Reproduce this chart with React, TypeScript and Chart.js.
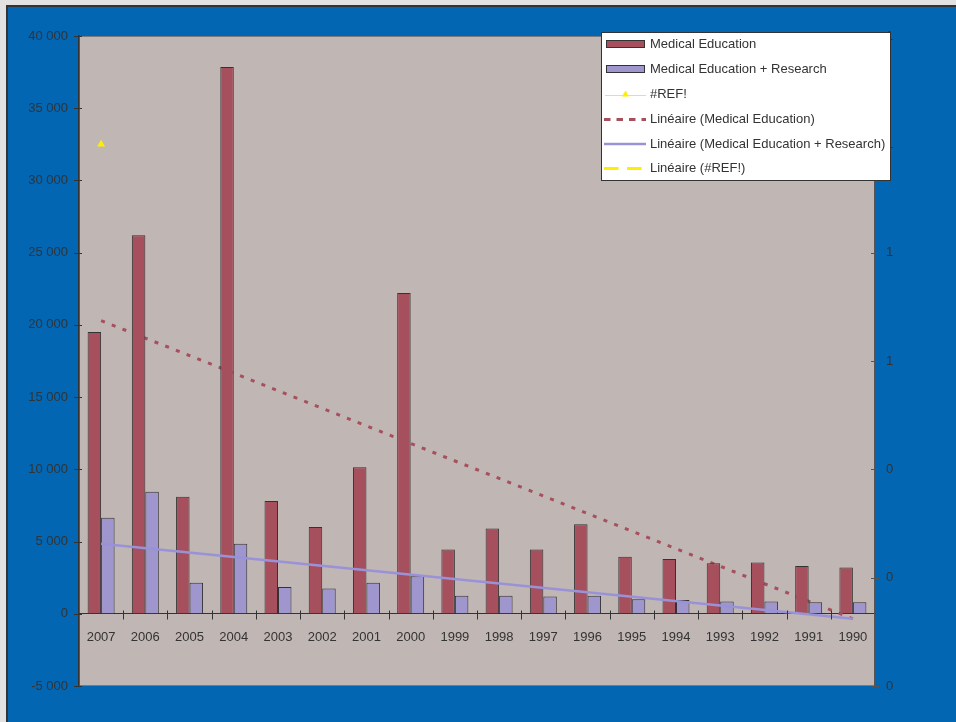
import { useEffect, useRef } from "react";
import { Chart, registerables } from "chart.js";

Chart.register(...registerables);

// Categories (most recent year first)
const years = [
  "2007", "2006", "2005", "2004", "2003", "2002", "2001", "2000", "1999",
  "1998", "1997", "1996", "1995", "1994", "1993", "1992", "1991", "1990",
];

// Bar series
const medicalEducation = [
  19500, 26200, 8100, 37850, 7800, 6000, 10150, 22200, 4450,
  5900, 4450, 6200, 3950, 3800, 3500, 3550, 3300, 3200,
];
const medicalEducationResearch = [
  6650, 8450, 2150, 4850, 1850, 1750, 2150, 2600, 1250,
  1250, 1200, 1250, 1000, 950, 850, 850, 800, 800,
];

// Secondary-axis series (only one defined point)
const refValues: (number | null)[] = [1];

// Linear trend lines: value at first and last category
const medicalEducationTrendEnds = [20300, -350];
const researchTrendEnds = [4850, -350];

// Axes
const leftMin = -5000;
const leftMax = 40000;
const leftStep = 5000;
const rightMin = 0;
const rightMax = 1.2;
const rightStep = 0.2;

const legendLabels = [
  "Medical Education",
  "Medical Education + Research",
  "#REF!",
  "Linéaire (Medical Education)",
  "Linéaire (Medical Education + Research)",
  "Linéaire (#REF!)",
];

const RED = "#a6505e";
const LAVENDER = "#9e96cc";
const TREND_LAVENDER = "#9a92d8";
const YELLOW = "#ffee00";
const TEXT = "#333333";
const FONT = "'Liberation Sans', Arial, sans-serif";

function endsToSeries(ends: number[]): (number | null)[] {
  return years.map((_, i) =>
    i === 0 ? ends[0] : i === years.length - 1 ? ends[1] : null
  );
}

function formatThousands(v: number): string {
  const s = Math.abs(Math.round(v)).toString().replace(/\B(?=(\d{3})+(?!\d))/g, " ");
  return (v < 0 ? "-" : "") + s;
}

const backgroundPlugin = {
  id: "backgroundFrame",
  beforeDraw(chart: any) {
    const { ctx, width, height, chartArea: a } = chart;
    ctx.save();
    ctx.fillStyle = "#e2e2e2";
    ctx.fillRect(0, 0, width, height);
    ctx.fillStyle = "#333333";
    ctx.fillRect(6, 5, width - 6, height - 5);
    ctx.fillStyle = "#0366b2";
    ctx.fillRect(8, 7, width - 8, height - 7);
    ctx.fillStyle = "#c0b6b4";
    ctx.fillRect(a.left, a.top, a.right - a.left, a.bottom - a.top);
    ctx.strokeStyle = "#7a7a7a";
    ctx.lineWidth = 1;
    ctx.strokeRect(a.left + 0.5, a.top + 0.5, a.right - a.left - 1, a.bottom - a.top - 1);
    ctx.restore();
  },
};

const overlayPlugin = {
  id: "ticksAndLegend",
  afterDraw(chart: any) {
    const { ctx } = chart;
    const x = chart.scales.x;
    const y = chart.scales.y;
    const y1 = chart.scales.y1;
    ctx.save();

    // Cross tick marks
    ctx.strokeStyle = TEXT;
    ctx.lineWidth = 1;
    ctx.beginPath();
    y.ticks.forEach((t: any) => {
      const py = Math.round(y.getPixelForValue(t.value)) + 0.5;
      ctx.moveTo(x.left - 5, py);
      ctx.lineTo(x.left + 3, py);
    });
    const zeroY = Math.round(y.getPixelForValue(0)) + 0.5;
    for (let i = 1; i < years.length; i++) {
      const px = Math.round((x.getPixelForValue(i - 1) + x.getPixelForValue(i)) / 2) + 0.5;
      ctx.moveTo(px, zeroY - 4);
      ctx.lineTo(px, zeroY + 5);
    }
    ctx.stroke();
    ctx.strokeStyle = "#555555";
    ctx.beginPath();
    y1.ticks.forEach((t: any) => {
      const py = Math.round(y1.getPixelForValue(t.value)) + 0.5;
      ctx.moveTo(x.right - 4, py);
      ctx.lineTo(x.right + 4, py);
    });
    ctx.stroke();

    // Legend box
    const lx = 601;
    const ly = 32;
    const lw = 290;
    const lh = 149;
    ctx.fillStyle = "#ffffff";
    ctx.fillRect(lx, ly, lw, lh);
    ctx.strokeStyle = "#333333";
    ctx.lineWidth = 1;
    ctx.strokeRect(lx + 0.5, ly + 0.5, lw - 1, lh - 1);

    const rows = [44, 69, 94.5, 119.5, 144, 168.5];
    const sx0 = 605;
    const sx1 = 646;
    ctx.font = `13px ${FONT}`;
    ctx.textBaseline = "middle";
    ctx.textAlign = "left";
    legendLabels.forEach((label, i) => {
      const ry = rows[i];
      ctx.save();
      if (i === 0 || i === 1) {
        ctx.fillStyle = i === 0 ? RED : LAVENDER;
        ctx.fillRect(sx0 + 1, ry - 4, sx1 - sx0 - 2, 8);
        ctx.strokeStyle = "#333333";
        ctx.lineWidth = 1;
        ctx.strokeRect(sx0 + 1.5, ry - 3.5, sx1 - sx0 - 3, 7);
      } else if (i === 2) {
        ctx.strokeStyle = YELLOW;
        ctx.lineWidth = 1;
        ctx.beginPath();
        ctx.moveTo(sx0, Math.round(ry) + 0.5);
        ctx.lineTo(sx1, Math.round(ry) + 0.5);
        ctx.stroke();
        const cx = (sx0 + sx1) / 2;
        ctx.fillStyle = YELLOW;
        ctx.beginPath();
        ctx.moveTo(cx, ry - 4);
        ctx.lineTo(cx + 3.5, ry + 2);
        ctx.lineTo(cx - 3.5, ry + 2);
        ctx.closePath();
        ctx.fill();
      } else {
        ctx.lineWidth = i === 4 ? 2.5 : 3;
        ctx.strokeStyle = i === 3 ? RED : i === 4 ? TREND_LAVENDER : YELLOW;
        if (i === 3) ctx.setLineDash([6.5, 6]);
        if (i === 5) ctx.setLineDash([14.5, 8.5]);
        ctx.beginPath();
        ctx.moveTo(sx0 - 1, ry);
        ctx.lineTo(sx1, ry);
        ctx.stroke();
      }
      ctx.restore();
      ctx.fillStyle = TEXT;
      ctx.fillText(label, 650, ry);
    });
    ctx.restore();
  },
};

export default function App() {
  const canvasRef = useRef<HTMLCanvasElement | null>(null);

  useEffect(() => {
    const canvas = canvasRef.current;
    if (!canvas) return;
    const chart = new Chart(canvas, {
      type: "bar",
      data: {
        labels: years,
        datasets: [
          {
            type: "line",
            label: legendLabels[3],
            data: endsToSeries(medicalEducationTrendEnds),
            borderColor: RED,
            borderWidth: 3,
            borderDash: [4, 7.5],
            pointRadius: 0,
            spanGaps: true,
            yAxisID: "y",
            order: 3,
          },
          {
            type: "bar",
            label: legendLabels[0],
            data: medicalEducation,
            backgroundColor: RED,
            borderColor: "#333333",
            borderWidth: 1,
            categoryPercentage: 0.61,
            barPercentage: 1,
            yAxisID: "y",
            order: 2,
          },
          {
            type: "bar",
            label: legendLabels[1],
            data: medicalEducationResearch,
            backgroundColor: LAVENDER,
            borderColor: "#333333",
            borderWidth: 1,
            categoryPercentage: 0.61,
            barPercentage: 1,
            yAxisID: "y",
            order: 2,
          },
          {
            type: "line",
            label: legendLabels[4],
            data: endsToSeries(researchTrendEnds),
            borderColor: TREND_LAVENDER,
            borderWidth: 2.5,
            pointRadius: 0,
            spanGaps: true,
            yAxisID: "y",
            order: 1,
          },
          {
            type: "line",
            label: legendLabels[2],
            data: years.map((_, i) => (i < refValues.length ? refValues[i] : null)),
            borderColor: YELLOW,
            backgroundColor: YELLOW,
            borderWidth: 1,
            pointStyle: "triangle",
            pointRadius: 4.5,
            pointBorderWidth: 0,
            yAxisID: "y1",
            order: 0,
          },
        ],
      },
      options: {
        responsive: false,
        animation: false,
        layout: { padding: { top: 36, bottom: 36, left: 0, right: 0 } },
        plugins: {
          legend: { display: false },
          tooltip: { enabled: false },
        },
        scales: {
          x: {
            type: "category",
            position: { y: 0 } as any,
            offset: true,
            grid: {
              display: true,
              drawOnChartArea: false,
              offset: true,
              tickLength: 5,
              tickColor: "transparent",
            },
            border: { display: true, color: "#333333", width: 1 },
            ticks: {
              color: TEXT,
              font: { family: FONT, size: 13 },
              padding: 11,
              maxRotation: 0,
              autoSkip: false,
            },
            afterFit(scale: any) {
              scale.height = 0;
            },
          },
          y: {
            position: "left",
            min: leftMin,
            max: leftMax,
            grid: {
              display: true,
              drawOnChartArea: false,
              tickLength: 5,
              tickColor: "transparent",
            },
            border: { display: true, color: "#333333", width: 1.5 },
            ticks: {
              stepSize: leftStep,
              color: TEXT,
              font: { family: FONT, size: 13 },
              padding: 6,
              callback: (v: any) => formatThousands(Number(v)),
            },
            afterFit(scale: any) {
              scale.width = 79;
            },
          },
          y1: {
            position: "right",
            min: rightMin,
            max: rightMax,
            grid: {
              display: true,
              drawOnChartArea: false,
              tickLength: 5,
              tickColor: "transparent",
            },
            border: { display: true, color: "#555555", width: 1.5 },
            ticks: {
              stepSize: rightStep,
              color: TEXT,
              font: { family: FONT, size: 13 },
              padding: 6,
              callback: (v: any) => String(Math.round(Number(v))),
            },
            afterFit(scale: any) {
              scale.width = 81;
            },
          },
        },
      },
      plugins: [backgroundPlugin, overlayPlugin],
    });
    return () => chart.destroy();
  }, []);

  return (
    <div style={{ position: "fixed", left: 0, top: 0, width: 956, height: 722 }}>
      <canvas ref={canvasRef} width={956} height={722} style={{ display: "block" }} />
    </div>
  );
}
